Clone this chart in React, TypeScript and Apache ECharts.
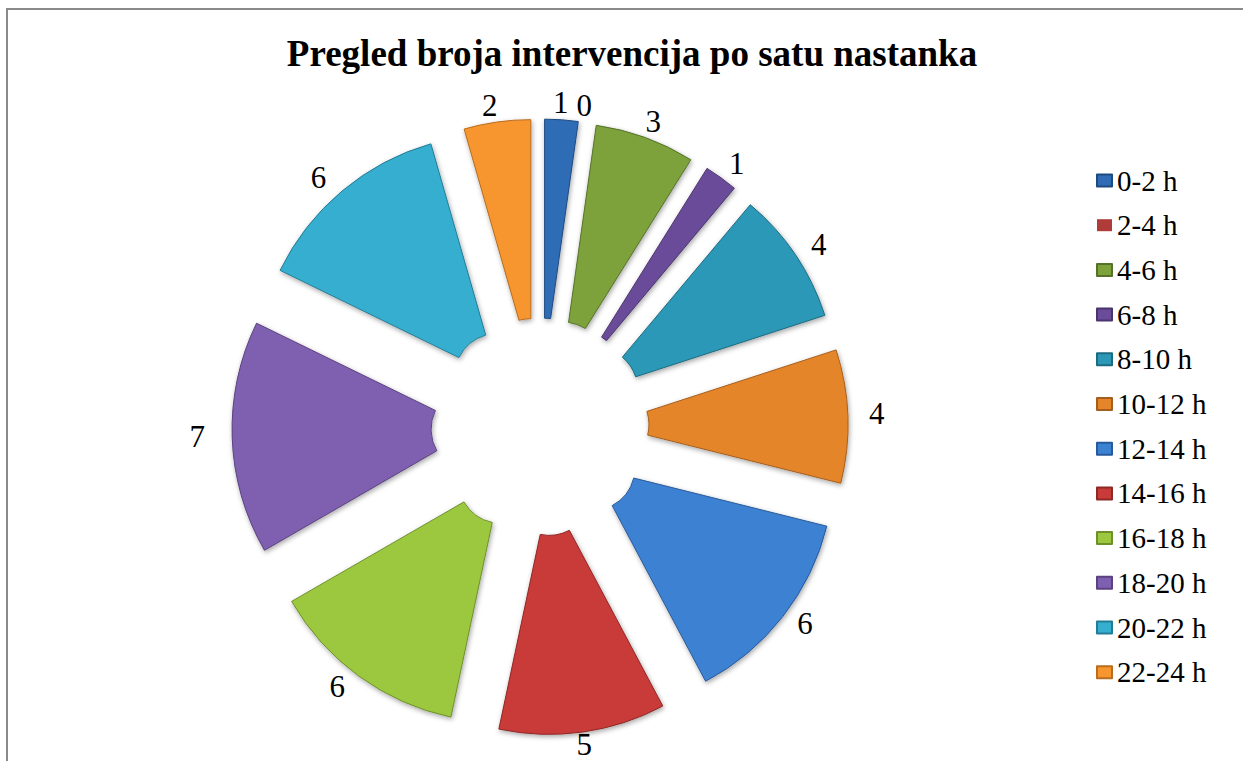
import React, { useEffect, useRef } from "react";
import * as echarts from "echarts";

const titleText = "Pregled broja intervencija po satu nastanka";
const categories = ["0-2 h", "2-4 h", "4-6 h", "6-8 h", "8-10 h", "10-12 h", "12-14 h", "14-16 h", "16-18 h", "18-20 h", "20-22 h", "22-24 h"];
const values = [1, 0, 3, 1, 4, 4, 6, 5, 6, 7, 6, 2];
const colors = ["#2F6CB5", "#B03C3A", "#7DA23B", "#6B4C9A", "#2B98B6", "#E4852A", "#3C82D2", "#C93B38", "#9CC840", "#7F5FAF", "#36AED0", "#F7962E"];
const borders = ["#1F4A80", "#7A2826", "#56722A", "#4A346C", "#1D6B80", "#A65E1C", "#28599A", "#8E2826", "#6E8F2C", "#5A4280", "#237C95", "#B86C1E"];

const SERIF = "'Liberation Serif', 'Times New Roman', 'DejaVu Serif', serif";
const CX = 540;
const CY = 427;

export default function App() {
  const ref = useRef<HTMLDivElement>(null);
  useEffect(() => {
    document.body.style.margin = "0";
    const chart = echarts.init(ref.current!, null, { renderer: "svg" });
    const mainData = categories.map((name, i) => ({
      name,
      value: values[i],
      selected: true,
      itemStyle: {
        color: colors[i],
        borderColor: borders[i],
        borderWidth: values[i] === 0 ? 0 : 1,
        shadowBlur: values[i] === 0 ? 0 : 5,
        shadowColor: "rgba(0,0,0,0.35)",
        shadowOffsetX: 1,
        shadowOffsetY: 2,
      },
      select: { itemStyle: { color: colors[i], borderColor: borders[i], borderWidth: values[i] === 0 ? 0 : 1 } },
    }));
    const labelData = categories.map((name, i) => ({ name, value: values[i] }));
    chart.setOption({
      animation: false,
      backgroundColor: "#ffffff",
      title: {
        text: titleText,
        left: 627,
        top: 30,
        textAlign: "center",
        textStyle: { fontFamily: SERIF, fontWeight: "bold", fontSize: 37, color: "#000" },
      },
      legend: {
        orient: "vertical",
        left: 1096,
        top: 166,
        padding: 0,
        icon: "rect",
        itemWidth: 15,
        itemHeight: 12,
        itemGap: 15.7,
        data: categories,
        textStyle: { fontFamily: SERIF, fontSize: 29, color: "#000" },
      },
      graphic: [
        {
          type: "rect",
          z: -10,
          shape: { x: 7, y: 9, width: 1300, height: 800 },
          style: { fill: "none", stroke: "#8a8a8a", lineWidth: 2 },
        },
      ],
      series: [
        {
          type: "pie",
          center: [CX, CY],
          radius: [43, 242],
          startAngle: 90,
          clockwise: true,
          selectedMode: "multiple",
          selectedOffset: 66,
          avoidLabelOverlap: false,
          label: { show: false },
          labelLine: { show: false },
          emphasis: { disabled: true },
          data: mainData,
        },
        {
          type: "pie",
          center: [CX - 3, CY - 2],
          radius: [326, 348],
          startAngle: 90,
          clockwise: true,
          silent: true,
          selectedMode: false,
          avoidLabelOverlap: false,
          itemStyle: { color: "rgba(0,0,0,0)", borderWidth: 0 },
          label: {
            show: true,
            position: "inside",
            formatter: "{c}",
            fontFamily: SERIF,
            fontSize: 31,
            color: "#000",
          },
          labelLayout: (p: any) => {
            const r = p.labelRect;
            const ly = r.y + r.height / 2;
            return { y: CY - 2 + (ly - (CY - 2)) * 0.95 };
          },
          labelLine: { show: false },
          emphasis: { disabled: true },
          data: labelData,
        },
      ],
    });
    return () => chart.dispose();
  }, []);
  return <div ref={ref} style={{ width: 1243, height: 761 }} />;
}
